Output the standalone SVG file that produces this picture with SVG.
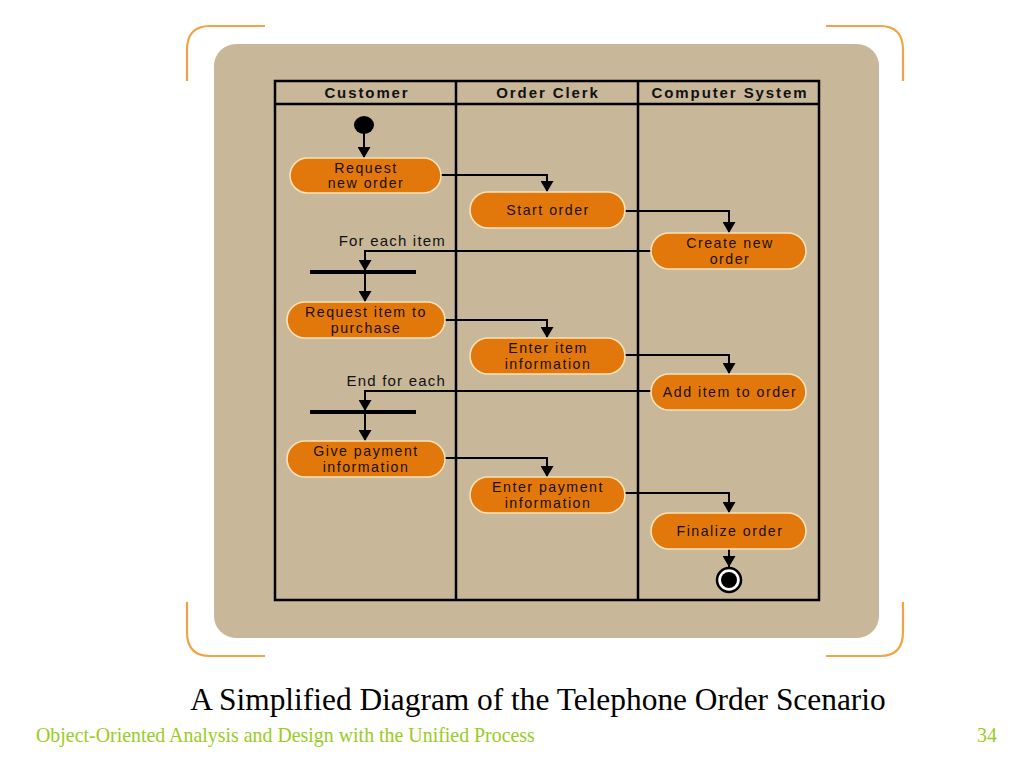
<svg xmlns="http://www.w3.org/2000/svg" width="1024" height="768" viewBox="0 0 1024 768">
<defs>
<marker id="arr" markerUnits="userSpaceOnUse" markerWidth="12" markerHeight="13" refX="11" refY="6.5" orient="auto">
<path d="M0,0 L11,6.5 L0,13 z" fill="#000"/>
</marker>
<style>
.pill{fill:#E2780C;stroke:#F7E3B8;stroke-width:1.6}
.nt{font-family:"Liberation Sans",Arial,sans-serif;font-size:14.2px;letter-spacing:1.5px;fill:#1a1008;text-anchor:middle}
.hd{font-family:"Liberation Sans",Arial,sans-serif;font-size:15px;font-weight:bold;letter-spacing:1.9px;fill:#111;text-anchor:middle}
.lb{font-family:"Liberation Sans",Arial,sans-serif;font-size:15px;letter-spacing:1.2px;fill:#111;text-anchor:end}
.ln{fill:none;stroke:#000;stroke-width:2}
.tb{fill:none;stroke:#000;stroke-width:2.5}
.br{fill:none;stroke:#F2A345;stroke-width:2.2}
.bar{stroke:#000;stroke-width:4}
</style>
</defs>
<rect width="1024" height="768" fill="#fff"/>
<g id="frame">
<path class="br" d="M265,26 H210 Q187,26 187,50 V81"/>
<path class="br" d="M826,26 H880 Q903,26 903,50 V81"/>
<path class="br" d="M187,602 V632 Q187,656 210,656 H265"/>
<path class="br" d="M903,602 V632 Q903,656 880,656 H826"/>
<rect x="214" y="44" width="665" height="594" rx="22" fill="#C9B799"/>
</g>
<g id="swimlanes">
<rect class="tb" x="275" y="81" width="544" height="519"/>
<line class="tb" x1="275" y1="104" x2="819" y2="104"/>
<line class="tb" x1="456" y1="81" x2="456" y2="600"/>
<line class="tb" x1="638" y1="81" x2="638" y2="600"/>
<text class="hd" x="367" y="98">Customer</text>
<text class="hd" x="548" y="98">Order Clerk</text>
<text class="hd" x="730" y="98">Computer System</text>
</g>
<g id="connectors">
<line class="ln" x1="364" y1="133" x2="364" y2="158" marker-end="url(#arr)"/>
<polyline class="ln" points="441,175 547,175 547,192" marker-end="url(#arr)"/>
<polyline class="ln" points="625,211 729,211 729,233" marker-end="url(#arr)"/>
<polyline class="ln" points="651,251 365,251 365,271" marker-end="url(#arr)"/>
<line class="ln" x1="365" y1="274" x2="365" y2="302" marker-end="url(#arr)"/>
<polyline class="ln" points="445,320 547,320 547,338" marker-end="url(#arr)"/>
<polyline class="ln" points="625,355 729,355 729,374" marker-end="url(#arr)"/>
<polyline class="ln" points="651,391 365,391 365,411" marker-end="url(#arr)"/>
<line class="ln" x1="365" y1="414" x2="365" y2="441" marker-end="url(#arr)"/>
<polyline class="ln" points="445,458 547,458 547,477" marker-end="url(#arr)"/>
<polyline class="ln" points="625,493 729,493 729,513" marker-end="url(#arr)"/>
<line class="ln" x1="729" y1="549" x2="729" y2="567" marker-end="url(#arr)"/>
<text class="lb" x="446" y="246">For each item</text>
<text class="lb" x="446" y="386">End for each</text>
</g>
<g id="start"><ellipse cx="364" cy="125" rx="10" ry="9" fill="#000"/></g>
<g id="n1"><rect class="pill" x="290" y="158" width="151" height="35" rx="17.5"/><text class="nt" x="366" y="172.6">Request</text><text class="nt" x="366" y="188.4">new order</text></g>
<g id="n2"><rect class="pill" x="470" y="192" width="155" height="36" rx="18"/><text class="nt" x="548" y="215">Start order</text></g>
<g id="n3"><rect class="pill" x="651" y="233" width="155" height="36" rx="18"/><text class="nt" x="730" y="248.2">Create new</text><text class="nt" x="730" y="263.9">order</text></g>
<g id="fork1"><line class="bar" x1="310" y1="272" x2="416" y2="272"/></g>
<g id="n4"><rect class="pill" x="287" y="302" width="158" height="36" rx="18"/><text class="nt" x="366" y="317.2">Request item to</text><text class="nt" x="366" y="332.9">purchase</text></g>
<g id="n5"><rect class="pill" x="470" y="338" width="155" height="36" rx="18"/><text class="nt" x="548" y="353.2">Enter item</text><text class="nt" x="548" y="368.9">information</text></g>
<g id="n6"><rect class="pill" x="651" y="374" width="155" height="36" rx="18"/><text class="nt" x="730" y="397">Add item to order</text></g>
<g id="join1"><line class="bar" x1="310" y1="412" x2="416" y2="412"/></g>
<g id="n7"><rect class="pill" x="287" y="441" width="158" height="36" rx="18"/><text class="nt" x="366" y="456.2">Give payment</text><text class="nt" x="366" y="471.9">information</text></g>
<g id="n8"><rect class="pill" x="470" y="477" width="155" height="36" rx="18"/><text class="nt" x="548" y="492.2">Enter payment</text><text class="nt" x="548" y="507.9">information</text></g>
<g id="n9"><rect class="pill" x="651" y="513" width="155" height="36" rx="18"/><text class="nt" x="730" y="536">Finalize order</text></g>
<g id="end"><circle cx="729" cy="580" r="12" fill="#fff" stroke="#000" stroke-width="2.5"/><circle cx="729" cy="580" r="8" fill="#000"/></g>
<g id="captions">
<text x="538" y="710" font-family="Liberation Serif,'Times New Roman',serif" font-size="31.4" fill="#000" text-anchor="middle">A Simplified Diagram of the Telephone Order Scenario</text>
<text x="36" y="742" font-family="Liberation Serif,'Times New Roman',serif" font-size="19.9" fill="#99CC22">Object-Oriented Analysis and Design with the Unified Process</text>
<text x="997" y="742" font-family="Liberation Serif,'Times New Roman',serif" font-size="19.9" fill="#99CC22" text-anchor="end">34</text>
</g>
</svg>
